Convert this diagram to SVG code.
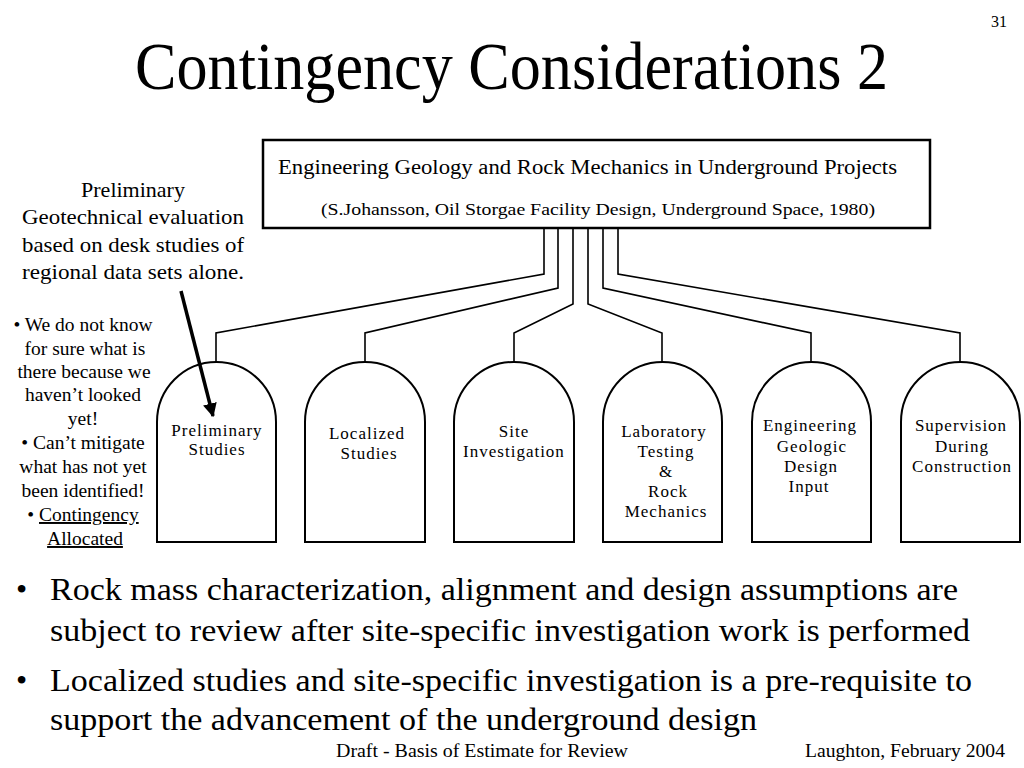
<svg xmlns="http://www.w3.org/2000/svg" width="1024" height="768" viewBox="0 0 1024 768">
<style>
  text { font-family: "Liberation Serif", "Times New Roman", serif; fill: #000; }
  .title { font-size: 68px; }
  .hdr { font-size: 20px; }
  .cite { font-size: 17px; }
  .note { font-size: 22px; text-anchor: middle; }
  .bul { font-size: 19.5px; text-anchor: middle; }
  .arch { fill: #fff; stroke: #000; stroke-width: 2; }
  .lbl { font-size: 17px; text-anchor: middle; letter-spacing: 1px; }
  .body { font-size: 32px; }
  .foot { font-size: 18px; }
  .conn { fill: none; stroke: #000; stroke-width: 1.6; }
</style>
<defs>
  <marker id="ah" viewBox="0 0 10 10" refX="9" refY="5" markerWidth="4" markerHeight="4" orient="auto" markerUnits="strokeWidth">
    <path d="M0,0 L10,5 L0,10 Z" fill="#000"/>
  </marker>
</defs>
<rect width="1024" height="768" fill="#fff"/>

<text x="1007" y="27" font-size="16" text-anchor="end">31</text>
<text class="title" x="135" y="89" textLength="753" lengthAdjust="spacingAndGlyphs">Contingency Considerations 2</text>

<g id="connectors">
  <path class="conn" d="M544,229 V274 L216,333 V362"/>
  <path class="conn" d="M558,229 V288 L365,333 V362"/>
  <path class="conn" d="M573,229 V304 L514,333 V362"/>
  <path class="conn" d="M588,229 V304 L662,333 V362"/>
  <path class="conn" d="M603,229 V288 L811,333 V362"/>
  <path class="conn" d="M618,229 V274 L960,333 V362"/>
</g>

<g id="source">
  <rect x="263" y="140" width="667" height="88" fill="#fff" stroke="#000" stroke-width="2.5"/>
  <text class="hdr" x="278" y="174" textLength="619" lengthAdjust="spacingAndGlyphs">Engineering Geology and Rock Mechanics in Underground Projects</text>
  <text class="cite" x="321" y="215" textLength="554" lengthAdjust="spacingAndGlyphs">(S.Johansson, Oil Storgae Facility Design, Underground Space, 1980)</text>
</g>

<g id="node-preliminary">
  <path class="arch" d="M157,542 V422 A59.5,60 0 0 1 276,422 V542 Z"/>
  <text class="lbl" x="217" y="436">Preliminary</text>
  <text class="lbl" x="217" y="455">Studies</text>
</g>
<g id="node-localized">
  <path class="arch" d="M305,542 V422 A60,60 0 0 1 425,422 V542 Z"/>
  <text class="lbl" x="367" y="439">Localized</text>
  <text class="lbl" x="369" y="459">Studies</text>
</g>
<g id="node-site">
  <path class="arch" d="M454,542 V422 A60,60 0 0 1 574,422 V542 Z"/>
  <text class="lbl" x="514" y="437">Site</text>
  <text class="lbl" x="514" y="457">Investigation</text>
</g>
<g id="node-lab">
  <path class="arch" d="M603,542 V422 A59.5,60 0 0 1 722,422 V542 Z"/>
  <text class="lbl" x="664" y="437">Laboratory</text>
  <text class="lbl" x="666" y="457">Testing</text>
  <text class="lbl" x="666" y="477">&amp;</text>
  <text class="lbl" x="668" y="497">Rock</text>
  <text class="lbl" x="666" y="517">Mechanics</text>
</g>
<g id="node-eng">
  <path class="arch" d="M752,542 V422 A59.5,60 0 0 1 871,422 V542 Z"/>
  <text class="lbl" x="810" y="431">Engineering</text>
  <text class="lbl" x="812" y="452">Geologic</text>
  <text class="lbl" x="811" y="472">Design</text>
  <text class="lbl" x="809" y="492">Input</text>
</g>
<g id="node-sup">
  <path class="arch" d="M901,542 V422 A59.5,60 0 0 1 1020,422 V542 Z"/>
  <text class="lbl" x="961" y="431">Supervision</text>
  <text class="lbl" x="962" y="452">During</text>
  <text class="lbl" x="962" y="472">Construction</text>
</g>

<g id="note">
  <text class="note" x="133" y="197">Preliminary</text>
  <text class="note" x="133" y="224" textLength="222" lengthAdjust="spacingAndGlyphs">Geotechnical evaluation</text>
  <text class="note" x="133" y="252" textLength="222" lengthAdjust="spacingAndGlyphs">based on desk studies of</text>
  <text class="note" x="133" y="279" textLength="222" lengthAdjust="spacingAndGlyphs">regional data sets alone.</text>
  <line x1="181" y1="291" x2="213" y2="416" stroke="#000" stroke-width="3.5" marker-end="url(#ah)"/>
</g>

<g id="bullets">
  <text class="bul" x="83" y="331">• We do not know</text>
  <text class="bul" x="85" y="355">for sure what is</text>
  <text class="bul" x="84" y="378">there because we</text>
  <text class="bul" x="83" y="401">haven’t looked</text>
  <text class="bul" x="83" y="425">yet!</text>
  <text class="bul" x="83" y="449">• Can’t mitigate</text>
  <text class="bul" x="83" y="473">what has not yet</text>
  <text class="bul" x="83" y="497">been identified!</text>
  <text class="bul" x="83" y="521">• <tspan text-decoration="underline">Contingency</tspan></text>
  <text class="bul" x="85" y="545" text-decoration="underline">Allocated</text>
</g>

<g id="body">
  <text class="body" x="16" y="600">•</text>
  <text class="body" x="50" y="600" textLength="908" lengthAdjust="spacingAndGlyphs">Rock mass characterization, alignment and design assumptions are</text>
  <text class="body" x="50" y="641" textLength="920" lengthAdjust="spacingAndGlyphs">subject to review after site-specific investigation work is performed</text>
  <text class="body" x="16" y="691">•</text>
  <text class="body" x="50" y="691" textLength="922" lengthAdjust="spacingAndGlyphs">Localized studies and site-specific investigation is a pre-requisite to</text>
  <text class="body" x="50" y="730" textLength="707" lengthAdjust="spacingAndGlyphs">support the advancement of the underground design</text>
</g>

<g id="footer">
  <text class="foot" x="336" y="757" textLength="292" lengthAdjust="spacingAndGlyphs">Draft - Basis of Estimate for Review</text>
  <text class="foot" x="805" y="757" textLength="200" lengthAdjust="spacingAndGlyphs">Laughton, February 2004</text>
</g>
</svg>
